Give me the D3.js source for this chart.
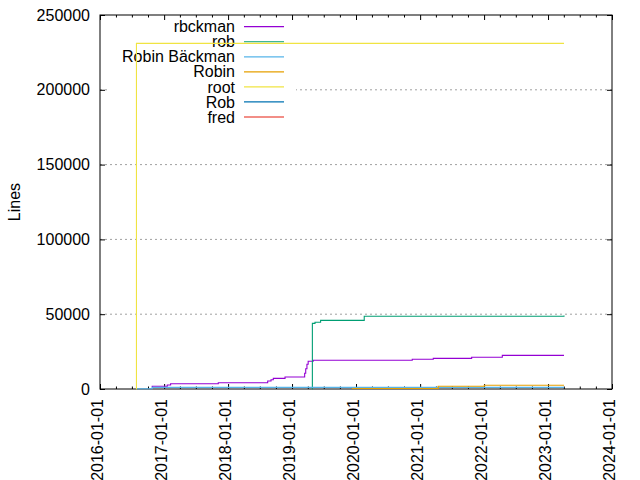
<!DOCTYPE html>
<html>
<head>
<meta charset="utf-8">
<script src="https://cdn.jsdelivr.net/npm/d3@7"></script>
<style>
  body { margin: 0; background: #fff; }
  svg { display: block; font-family: "Liberation Sans", Arial, sans-serif; }
</style>
</head>
<body>
<svg id="chart"></svg>
<script>
// key order = plot order
const authors = ["rbckman", "rob", "Robin Bäckman", "Robin", "root", "Rob", "fred"];

// [date, cumulative lines]
const rbckman = [
  ["2016-10-24", 1000], ["2016-10-25", 1800], ["2017-01-19", 2700], ["2017-02-07", 3500],
  ["2017-11-06", 4200], ["2018-08-15", 5300], ["2018-09-03", 6200], ["2018-09-16", 7100],
  ["2018-11-22", 8000], ["2019-03-14", 10500], ["2019-03-20", 13500], ["2019-03-27", 16500],
  ["2019-04-03", 18500], ["2019-05-02", 19200], ["2020-11-17", 19850], ["2021-03-17", 20500],
  ["2021-10-22", 21200], ["2022-04-15", 22500], ["2023-04-02", 22500]
];
const rob = [
  ["2019-04-26", 100], ["2019-04-27", 43900], ["2019-05-12", 44600], ["2019-06-13", 45900],
  ["2020-02-17", 48600], ["2023-03-20", 48600], ["2023-04-02", 49200]
];
const robinBackman = [["2016-07-26", 200], ["2016-10-25", 1100], ["2023-04-02", 1100]];
const robin = [["2019-12-09", 330], ["2021-04-14", 1800], ["2022-01-02", 2470], ["2023-04-02", 2470]];
const root = [["2016-07-26", 0], ["2016-07-27", 231000], ["2023-04-02", 231000]];
const robUpper = [["2016-08-01", 0]];
const fred = [["2016-08-01", 0]];

const yTicks = [0, 50000, 100000, 150000, 200000, 250000];
const xDomain = ["2016-01-01", "2024-01-01"];

const palette = ["#9400d3", "#009e73", "#56b4e9", "#e69f00", "#f0e442", "#0072b2", "#e51e10"];

const parse = d3.utcParse("%Y-%m-%d");
const series = [rbckman, rob, robinBackman, robin, root, robUpper, fred].map((rows, i) => ({
  name: authors[i],
  color: palette[i],
  values: rows.map(r => ({date: parse(r[0]), lines: r[1]}))
}));

const W = 640, H = 480;
const margin = {top: 15, right: 28, bottom: 91, left: 100};
const w = W - margin.left - margin.right;
const h = H - margin.top - margin.bottom;

const svg = d3.select("#chart").attr("width", W).attr("height", H);
svg.append("rect").attr("width", W).attr("height", H).attr("fill", "#fff");

const g = svg.append("g").attr("transform", `translate(${margin.left},${margin.top})`);

const x = d3.scaleUtc().domain(xDomain.map(parse)).range([0, w]);
const y = d3.scaleLinear().domain([0, 250000]).range([h, 0]);

// grid
g.append("g").selectAll("line")
  .data(yTicks.filter(t => t > 0 && t < 250000))
  .join("line")
  .attr("x1", 0).attr("x2", w)
  .attr("y1", d => y(d)).attr("y2", d => y(d))
  .attr("stroke", "#a0a0a0").attr("stroke-width", 1)
  .attr("stroke-dasharray", "2,3");

// key (opaque box behind the lines)
const keyG = g.append("g");
keyG.append("rect")
  .attr("x", 10).attr("y", 2).attr("width", 186).attr("height", 108)
  .attr("fill", "#fff");
const rowH = 15.05;
series.forEach((s, i) => {
  const ky = 11.7 + i * rowH;
  keyG.append("text")
    .attr("x", 135).attr("y", ky)
    .attr("text-anchor", "end").attr("dy", "0.35em")
    .attr("font-size", 16).attr("fill", "#000")
    .text(s.name);
  keyG.append("line")
    .attr("x1", 144).attr("x2", 184).attr("y1", ky).attr("y2", ky)
    .attr("stroke", s.color).attr("stroke-width", 1.2);
});

// axes
const xMajor = d3.utcYear.every(1).range(x.domain()[0], d3.utcDay.offset(x.domain()[1], 1));
const xMinor = d3.utcMonth.every(3).range(x.domain()[0], x.domain()[1]).filter(d => d.getUTCMonth() !== 0);

const xAxis = d3.axisBottom(x).tickValues(xMajor).tickSize(-5).tickSizeOuter(0)
  .tickFormat(d3.utcFormat("%Y-%m-%d"));
const xAxisG = g.append("g").attr("transform", `translate(0,${h})`).call(xAxis);
xAxisG.select(".domain").remove();
xAxisG.selectAll("text")
  .attr("font-size", 16).attr("font-family", "Liberation Sans, Arial, sans-serif")
  .attr("fill", "#000")
  .attr("text-anchor", "end")
  .attr("transform", "translate(0,10) rotate(-90)")
  .attr("x", 0).attr("y", 0).attr("dy", "0.16em");

const xMinorAxis = d3.axisBottom(x).tickValues(xMinor).tickSize(-2.5).tickFormat("");
const xMinorG = g.append("g").attr("transform", `translate(0,${h})`).call(xMinorAxis);
xMinorG.select(".domain").remove();

const xTop = d3.axisTop(x).tickValues(xMajor).tickSize(-5).tickFormat("");
g.append("g").call(xTop).select(".domain").remove();
const xTopMinor = d3.axisTop(x).tickValues(xMinor).tickSize(-2.5).tickFormat("");
g.append("g").call(xTopMinor).select(".domain").remove();

const yAxis = d3.axisLeft(y).tickValues(yTicks).tickSize(-5).tickPadding(10).tickFormat(d3.format("d"));
const yAxisG = g.append("g").call(yAxis);
yAxisG.select(".domain").remove();
yAxisG.selectAll("text")
  .attr("font-size", 16).attr("font-family", "Liberation Sans, Arial, sans-serif").attr("fill", "#000");

const yRight = d3.axisRight(y).tickValues(yTicks).tickSize(-5).tickFormat("");
g.append("g").attr("transform", `translate(${w},0)`).call(yRight).select(".domain").remove();

g.selectAll(".tick line").attr("stroke", "#000");

// border
g.append("rect")
  .attr("x", 0).attr("y", 0).attr("width", w).attr("height", h)
  .attr("fill", "none").attr("stroke", "#000").attr("stroke-width", 1);

// y label
svg.append("text")
  .attr("transform", `translate(14,${margin.top + h / 2}) rotate(-90)`)
  .attr("text-anchor", "middle").attr("dy", "0.35em")
  .attr("font-size", 16).attr("fill", "#000")
  .text("Lines");

// lines
const line = d3.line()
  .curve(d3.curveStepAfter)
  .x(d => x(d.date))
  .y(d => y(d.lines));

g.append("g").selectAll("path")
  .data(series)
  .join("path")
  .attr("d", d => line(d.values))
  .attr("fill", "none")
  .attr("stroke", d => d.color)
  .attr("stroke-width", 1.1);
</script>
</body>
</html>
